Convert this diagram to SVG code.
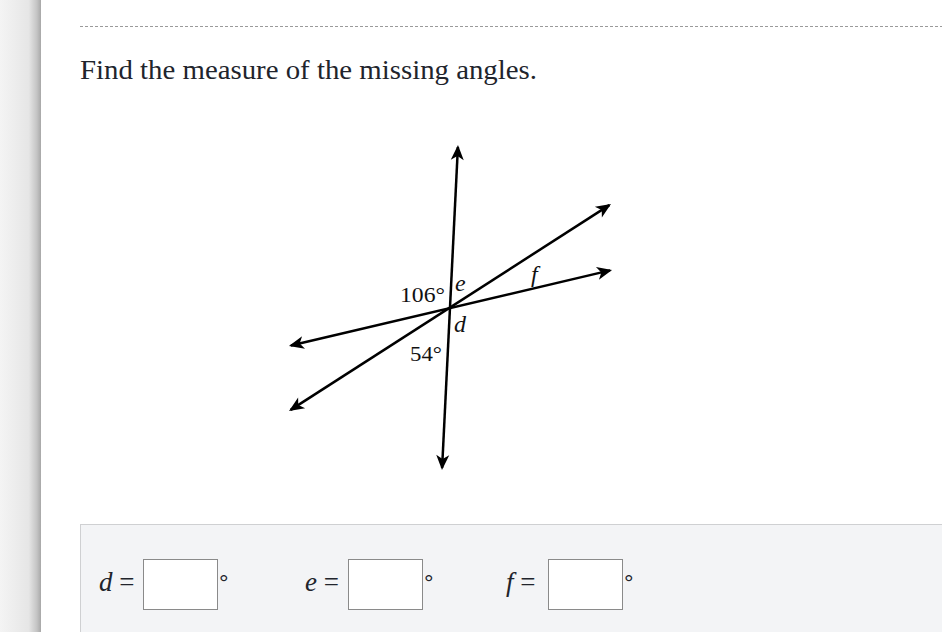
<svg xmlns="http://www.w3.org/2000/svg" width="942" height="632" viewBox="0 0 942 632">
  <defs>
    <linearGradient id="side" x1="0" y1="0" x2="1" y2="0">
      <stop offset="0" stop-color="#f4f4f4"/>
      <stop offset="0.7" stop-color="#e6e6e6"/>
      <stop offset="0.9" stop-color="#c4c4c4"/>
      <stop offset="1" stop-color="#a8a8a8"/>
    </linearGradient>
    <marker id="arr" viewBox="-14 -7 17 14" refX="0" refY="0" markerWidth="17" markerHeight="14" markerUnits="userSpaceOnUse" orient="auto-start-reverse">
      <path d="M2,0 L-13,-6.5 L-9,0 L-13,6.5 Z" fill="#000"/>
    </marker>
    <style>
      .ln { stroke:#000; stroke-width:2.5; fill:none; marker-start:url(#arr); marker-end:url(#arr); }
      .lbl { font-family:"Liberation Serif", "DejaVu Serif", serif; font-size:22px; fill:#111; }
      .var { font-family:"Liberation Serif", "DejaVu Serif", serif; font-style:italic; font-size:24px; fill:#111; }
      .ans { font-family:"Liberation Serif", "DejaVu Serif", serif; font-size:27px; fill:#21242c; }
      .box { fill:#fff; stroke:#8a8a8a; stroke-width:1; }
      .deg { font-family:"Liberation Sans", Arial, sans-serif; font-size:24px; fill:#21242c; }
    </style>
  </defs>

  <rect x="0" y="0" width="942" height="632" fill="#fff"/>
  <rect x="0" y="0" width="41" height="632" fill="url(#side)"/>
  <line x1="80" y1="26.5" x2="942" y2="26.5" stroke="#9a9a9a" stroke-width="1" stroke-dasharray="3,2"/>

  <text x="80" y="79" font-family="Georgia, 'Liberation Serif', 'DejaVu Serif', serif" font-size="27" fill="#21242c" textLength="457" lengthAdjust="spacingAndGlyphs">Find the measure of the missing angles.</text>

  <g id="connectors">
    <line class="ln" x1="442.1" y1="468" x2="457.9" y2="147"/>
    <line class="ln" x1="290.7" y1="409.9" x2="609.3" y2="205.1"/>
    <line class="ln" x1="290.9" y1="345.5" x2="610.1" y2="270.4"/>
  </g>

  <g id="labels">
    <text class="lbl" x="400" y="302" textLength="45" lengthAdjust="spacingAndGlyphs">106°</text>
    <text class="var" x="455" y="291">e</text>
    <text class="var" x="531" y="282">f</text>
    <text class="var" x="454" y="332">d</text>
    <text class="lbl" x="410" y="361" textLength="32" lengthAdjust="spacingAndGlyphs">54°</text>
  </g>

  <g id="answers">
    <rect x="80.5" y="524.5" width="870" height="120" fill="#f3f4f6" stroke="#cfd0d2" stroke-width="1"/>
    <g id="ans-d">
      <text class="ans" x="99" y="591"><tspan font-style="italic">d</tspan> =</text>
      <rect class="box" x="143.5" y="559.5" width="74" height="50"/>
      <text class="deg" x="219" y="591">°</text>
    </g>
    <g id="ans-e">
      <text class="ans" x="305" y="591"><tspan font-style="italic">e</tspan> =</text>
      <rect class="box" x="348.5" y="559.5" width="74" height="50"/>
      <text class="deg" x="424" y="591">°</text>
    </g>
    <g id="ans-f">
      <text class="ans" x="506" y="591"><tspan font-style="italic">f</tspan> =</text>
      <rect class="box" x="548.5" y="559.5" width="74" height="50"/>
      <text class="deg" x="624" y="591">°</text>
    </g>
  </g>
</svg>
